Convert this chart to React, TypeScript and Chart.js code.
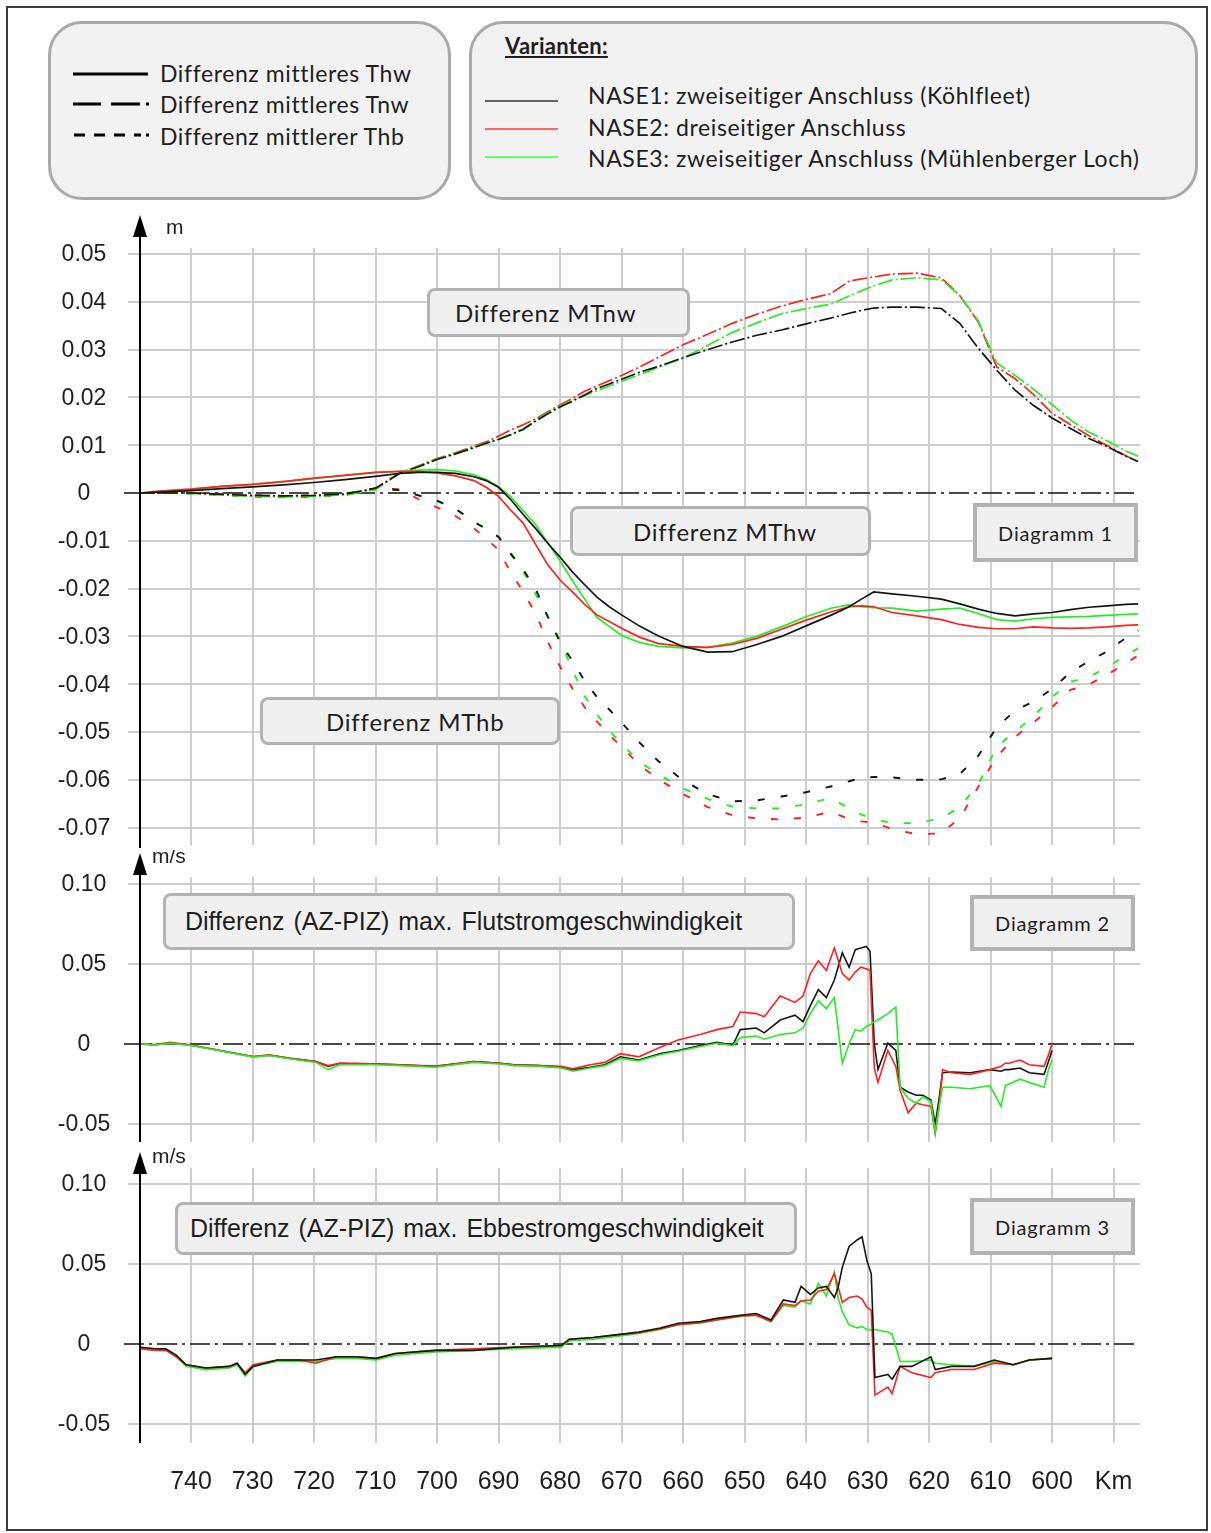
import React, { useEffect, useRef } from "react";
import { Chart, registerables } from "chart.js";

Chart.register(...registerables);

// ---------- shared x axis (Elbe-km, decreasing to the right) ----------
const X_TICKS = [740, 730, 720, 710, 700, 690, 680, 670, 660, 650, 640, 630, 620, 610, 600, 590];
const X_LABELS = ["740", "730", "720", "710", "700", "690", "680", "670", "660", "650", "640", "630", "620", "610", "600", "Km"];
const X_MAX = 748.3;
const X_MIN = 585.7;

// ---------- y ticks ----------
const Y1_TICKS = [-0.07, -0.06, -0.05, -0.04, -0.03, -0.02, -0.01, 0, 0.01, 0.02, 0.03, 0.04, 0.05];
const Y1_LABELS = ["-0.07", "-0.06", "-0.05", "-0.04", "-0.03", "-0.02", "-0.01", "0", "0.01", "0.02", "0.03", "0.04", "0.05"];
const Y23_TICKS = [-0.05, 0, 0.05, 0.1];
const Y23_LABELS = ["-0.05", "0", "0.05", "0.10"];

// ---------- Diagramm 1: water level differences (m) ----------
const KM1 = [748.3, 745, 740, 735, 730, 725, 720, 715, 710, 706, 703, 700, 697, 694, 692, 690, 688, 686, 684, 682, 680, 678, 676, 674, 672, 670, 667, 664, 660, 656, 652, 648, 644, 640, 636, 633, 631, 629, 626, 622, 618, 615, 612, 609, 606, 603, 600, 597, 594, 591, 588, 586];

const THW_NASE1 = [0, 0.0002, 0.0005, 0.0009, 0.0013, 0.0017, 0.0022, 0.0028, 0.0035, 0.0041, 0.0043, 0.0043, 0.0041, 0.0034, 0.0026, 0.0012, -0.0014, -0.0045, -0.0074, -0.0105, -0.0134, -0.0165, -0.0192, -0.0218, -0.0238, -0.0255, -0.0279, -0.0299, -0.0321, -0.0333, -0.0332, -0.0317, -0.0300, -0.0278, -0.0256, -0.0238, -0.0222, -0.0207, -0.0211, -0.0216, -0.0222, -0.0232, -0.0243, -0.0252, -0.0257, -0.0253, -0.0250, -0.0244, -0.0239, -0.0236, -0.0233, -0.0232];
const THW_NASE2 = [0, 0.0004, 0.0008, 0.0014, 0.0018, 0.0024, 0.0031, 0.0037, 0.0043, 0.0045, 0.0045, 0.0042, 0.0036, 0.0026, 0.0012, -0.0007, -0.0036, -0.0063, -0.0107, -0.015, -0.0182, -0.0207, -0.0233, -0.0255, -0.0269, -0.0283, -0.0302, -0.0315, -0.0321, -0.0323, -0.0317, -0.0304, -0.0285, -0.0266, -0.0249, -0.0238, -0.0236, -0.0238, -0.025, -0.0257, -0.0265, -0.0275, -0.0281, -0.0284, -0.0284, -0.028, -0.0282, -0.0283, -0.0282, -0.028, -0.0277, -0.0276];
const THW_NASE3 = [0, 0.0004, 0.0008, 0.0014, 0.0018, 0.0024, 0.003, 0.0037, 0.0043, 0.0046, 0.0048, 0.0049, 0.0046, 0.0038, 0.0028, 0.0013, -0.0008, -0.0037, -0.0066, -0.0104, -0.0142, -0.0183, -0.0222, -0.026, -0.0279, -0.0298, -0.0313, -0.0321, -0.0324, -0.0323, -0.0314, -0.03, -0.028, -0.0259, -0.0241, -0.0234, -0.0238, -0.024, -0.0241, -0.0247, -0.0243, -0.0241, -0.0252, -0.0265, -0.0268, -0.0263, -0.026, -0.0259, -0.0258, -0.0256, -0.0254, -0.0253];

const TNW_NASE1 = [0, 0, 0, -0.0003, -0.0005, -0.0006, -0.0005, -0.0002, 0.001, 0.0042, 0.0055, 0.007, 0.0082, 0.0095, 0.0104, 0.0112, 0.0122, 0.0133, 0.015, 0.0166, 0.018, 0.0192, 0.0205, 0.0219, 0.0228, 0.0238, 0.0253, 0.0265, 0.0283, 0.03, 0.0316, 0.033, 0.0341, 0.0354, 0.0366, 0.0376, 0.0382, 0.0387, 0.0389, 0.0389, 0.0386, 0.0355, 0.0303, 0.0257, 0.0215, 0.0183, 0.0157, 0.0135, 0.0114, 0.0097, 0.0077, 0.0066];
const TNW_NASE2 = [0, 0, 0, -0.0002, -0.0006, -0.0007, -0.0006, -0.0003, 0.0008, 0.0042, 0.0057, 0.0072, 0.0084, 0.0098, 0.0107, 0.0119, 0.0132, 0.0143, 0.0155, 0.017, 0.0184, 0.0198, 0.0213, 0.0224, 0.0235, 0.0246, 0.0264, 0.0284, 0.031, 0.0332, 0.0355, 0.0374, 0.0391, 0.0405, 0.0417, 0.0443, 0.0448, 0.0452, 0.0458, 0.046, 0.045, 0.0413, 0.0358, 0.0264, 0.0239, 0.0206, 0.0167, 0.0143, 0.012, 0.0099, 0.0078, 0.0065];
const TNW_NASE3 = [0, 0, -0.0001, -0.0004, -0.0007, -0.0008, -0.0007, -0.0004, 0.0007, 0.0042, 0.0056, 0.0071, 0.0083, 0.0096, 0.0105, 0.0113, 0.0123, 0.0134, 0.0152, 0.0168, 0.0182, 0.0194, 0.0204, 0.0214, 0.0224, 0.0234, 0.0248, 0.0263, 0.0282, 0.0309, 0.0336, 0.0356, 0.0375, 0.0386, 0.0395, 0.0412, 0.0423, 0.0433, 0.0446, 0.045, 0.0446, 0.0413, 0.036, 0.0272, 0.0246, 0.0217, 0.0185, 0.0153, 0.0127, 0.0109, 0.0088, 0.0077];

const THB_NASE1 = [0, 0, 0, -0.0003, -0.0005, -0.0006, -0.0005, -0.0002, 0.001, 0.0006, -0.0005, -0.0016, -0.0033, -0.006, -0.0075, -0.0092, -0.0128, -0.016, -0.02, -0.0258, -0.0312, -0.0351, -0.0393, -0.0427, -0.0453, -0.048, -0.0523, -0.0561, -0.0601, -0.063, -0.0645, -0.0643, -0.0635, -0.0626, -0.0614, -0.0603, -0.0596, -0.0594, -0.0595, -0.06, -0.0599, -0.0588, -0.055, -0.049, -0.0455, -0.0436, -0.041, -0.0375, -0.0352, -0.0331, -0.0303, -0.0288];
const THB_NASE2 = [0, 0, -0.0001, -0.0004, -0.0008, -0.0009, -0.0008, -0.0005, 0.001, 0.0008, -0.0013, -0.003, -0.0048, -0.0074, -0.0095, -0.0119, -0.0167, -0.0206, -0.0252, -0.0311, -0.0363, -0.0409, -0.0448, -0.0478, -0.0506, -0.0531, -0.057, -0.0599, -0.063, -0.0657, -0.0674, -0.0681, -0.0683, -0.0679, -0.0667, -0.0682, -0.0687, -0.069, -0.0703, -0.0714, -0.0712, -0.068, -0.0615, -0.0552, -0.051, -0.048, -0.0448, -0.0412, -0.04, -0.038, -0.0356, -0.034];
const THB_NASE3 = [0, 0, -0.0001, -0.0004, -0.0007, -0.0008, -0.0007, -0.0004, 0.0008, 0.0006, -0.0005, -0.0017, -0.0033, -0.0061, -0.0076, -0.0091, -0.0124, -0.0164, -0.0211, -0.026, -0.0308, -0.037, -0.0425, -0.0463, -0.0497, -0.0525, -0.0563, -0.0589, -0.0618, -0.064, -0.0656, -0.066, -0.066, -0.0651, -0.0638, -0.066, -0.0673, -0.0682, -0.0691, -0.069, -0.0681, -0.0657, -0.061, -0.0531, -0.0499, -0.0467, -0.0427, -0.0395, -0.0385, -0.0364, -0.034, -0.0325];

// ---------- Diagramm 2: max. Flutstromgeschwindigkeit (m/s) ----------
const KM2 = [748.3, 745.9, 743.4, 740.2, 735.3, 729.9, 727.3, 723.9, 719.7, 717.7, 715.8, 713.2, 709.9, 706.0, 700.3, 694.0, 689.8, 687.5, 683.3, 679.8, 677.9, 675.1, 672.7, 670.2, 667.2, 663.7, 660.8, 657.2, 654.5, 651.9, 650.7, 648.1, 646.8, 644.2, 641.8, 640.5, 639.3, 638.0, 636.7, 635.4, 634.1, 633.0, 632.0, 631.1, 630.2, 629.6, 628.9, 628.3, 626.7, 625.4, 624.7, 623.4, 622.1, 621.0, 619.7, 619.0, 618.4, 617.8, 616.4, 613.3, 610.1, 608.3, 607.6, 607.0, 605.2, 603.7, 601.3, 600.5, 600.0];
const FLUT_NASE1 = [0, -0.0005, 0.0005, -0.0006, -0.004, -0.008, -0.007, -0.009, -0.011, -0.014, -0.012, -0.0125, -0.0125, -0.013, -0.014, -0.011, -0.012, -0.013, -0.0135, -0.0145, -0.016, -0.0145, -0.013, -0.008, -0.01, -0.006, -0.004, -0.001, 0.001, -0.0006, 0.009, 0.01, 0.007, 0.015, 0.018, 0.014, 0.024, 0.034, 0.029, 0.04, 0.057, 0.048, 0.059, 0.06, 0.061, 0.058, 0.0, -0.016, 0.0006, -0.004, -0.027, -0.03, -0.032, -0.032, -0.035, -0.05, -0.035, -0.018, -0.0175, -0.018, -0.016, -0.017, -0.016, -0.016, -0.015, -0.018, -0.019, -0.01, -0.004];
const FLUT_NASE2 = [0, -0.0004, 0.001, -0.0005, -0.004, -0.0078, -0.0068, -0.009, -0.011, -0.0135, -0.012, -0.012, -0.0125, -0.013, -0.014, -0.011, -0.012, -0.013, -0.0135, -0.014, -0.0155, -0.013, -0.0115, -0.006, -0.008, -0.002, 0.0025, 0.006, 0.009, 0.011, 0.02, 0.019, 0.017, 0.03, 0.026, 0.03, 0.044, 0.052, 0.046, 0.06, 0.044, 0.04, 0.045, 0.048, 0.047, 0.046, -0.015, -0.024, -0.004, -0.014, -0.029, -0.043, -0.037, -0.038, -0.039, -0.056, -0.04, -0.016, -0.018, -0.019, -0.016, -0.014, -0.012, -0.012, -0.01, -0.013, -0.014, -0.006, 0.0];
const FLUT_NASE3 = [0, -0.0006, 0.0004, -0.0008, -0.0042, -0.0082, -0.0072, -0.0092, -0.0115, -0.016, -0.013, -0.013, -0.013, -0.0135, -0.0145, -0.0115, -0.0125, -0.0135, -0.014, -0.015, -0.017, -0.015, -0.0135, -0.009, -0.0105, -0.0065, -0.0045, -0.0015, 0.0005, -0.001, 0.004, 0.005, 0.003, 0.006, 0.007, 0.01, 0.019, 0.027, 0.022, 0.029, -0.012, 0.0, 0.009, 0.008, 0.011, 0.012, 0.014, 0.015, 0.019, 0.023, -0.027, -0.034, -0.037, -0.033, -0.036, -0.055, -0.04, -0.027, -0.027, -0.028, -0.026, -0.039, -0.026, -0.025, -0.022, -0.024, -0.027, -0.015, -0.01];

// ---------- Diagramm 3: max. Ebbestromgeschwindigkeit (m/s) ----------
const KM3 = [748.3, 745.9, 744.1, 742.4, 740.8, 737.6, 733.8, 732.5, 731.2, 729.9, 726.0, 722.3, 719.7, 716.4, 713.2, 709.9, 706.8, 700.3, 694.0, 687.5, 679.8, 678.5, 674.6, 670.2, 667.2, 663.7, 660.8, 657.2, 654.5, 650.7, 648.1, 645.7, 643.7, 641.8, 640.8, 639.3, 638.0, 636.7, 635.4, 634.8, 634.1, 633.0, 631.7, 630.9, 630.1, 629.4, 628.8, 626.7, 626.0, 624.7, 622.8, 619.7, 619.0, 616.4, 612.7, 609.4, 606.3, 603.7, 600.0];
const EBBE_NASE1 = [-0.002, -0.003, -0.003, -0.007, -0.013, -0.015, -0.014, -0.012, -0.019, -0.014, -0.01, -0.01, -0.01, -0.008, -0.008, -0.009, -0.006, -0.004, -0.004, -0.002, -0.001, 0.003, 0.004, 0.006, 0.0075, 0.01, 0.013, 0.014, 0.016, 0.018, 0.019, 0.015, 0.0275, 0.026, 0.036, 0.031, 0.035, 0.036, 0.029, 0.035, 0.048, 0.061, 0.065, 0.067, 0.052, 0.044, -0.021, -0.019, -0.022, -0.014, -0.014, -0.008, -0.016, -0.014, -0.014, -0.01, -0.013, -0.01, -0.009];
const EBBE_NASE2 = [-0.003, -0.004, -0.004, -0.008, -0.013, -0.015, -0.014, -0.012, -0.018, -0.013, -0.01, -0.01, -0.012, -0.008, -0.008, -0.009, -0.006, -0.004, -0.003, -0.002, -0.001, 0.003, 0.004, 0.006, 0.007, 0.0095, 0.012, 0.0135, 0.015, 0.0175, 0.018, 0.014, 0.025, 0.024, 0.027, 0.0275, 0.033, 0.034, 0.044, 0.036, 0.026, 0.029, 0.03, 0.028, 0.023, 0.021, -0.032, -0.027, -0.031, -0.014, -0.018, -0.021, -0.018, -0.016, -0.016, -0.012, -0.013, -0.01, -0.009];
const EBBE_NASE3 = [-0.002, -0.003, -0.0035, -0.008, -0.014, -0.016, -0.015, -0.013, -0.02, -0.014, -0.011, -0.011, -0.011, -0.009, -0.009, -0.01, -0.007, -0.005, -0.004, -0.003, -0.002, 0.002, 0.003, 0.005, 0.0065, 0.009, 0.012, 0.013, 0.015, 0.017, 0.018, 0.014, 0.024, 0.023, 0.027, 0.025, 0.038, 0.03, 0.045, 0.029, 0.02, 0.012, 0.01, 0.011, 0.009, 0.009, 0.009, 0.0075, 0.006, -0.011, -0.011, -0.01, -0.012, -0.013, -0.014, -0.011, -0.013, -0.01, -0.009];

// ---------- styling ----------
const C_BLACK = "#151515";
const C_RED = "#ff2020";
const C_GREEN = "#22ee22";
const GRID = "#cdcdcd";
const TXT = "#1e1e1e";
const DASH_TNW = [15, 3, 2, 3];
const DASH_THB = [7, 16];
const SANS = "'Liberation Sans', Arial, sans-serif";

function pts(km: number[], v: number[]) {
  return km.map((x, i) => ({ x, y: v[i] }));
}

function ds(label: string, km: number[], v: number[], color: string, dash: number[], width: number) {
  return {
    label,
    data: pts(km, v),
    borderColor: color,
    backgroundColor: color,
    borderWidth: width,
    borderDash: dash,
    pointRadius: 0,
    tension: 0,
    fill: false,
  };
}

function labelFor(ticks: number[], labels: string[], v: number) {
  const i = ticks.findIndex((t) => Math.abs(t - v) < 1e-9);
  return i >= 0 ? labels[i] : "";
}

// zero line (dash-dot), y axis with arrow, unit and y tick labels
const decoPlugin = {
  id: "deco",
  beforeDatasetsDraw(chart: any, _a: any, o: any) {
    const { ctx, chartArea } = chart;
    const y0 = chart.scales.y.getPixelForValue(0);
    ctx.save();
    ctx.strokeStyle = "#111";
    ctx.lineWidth = 1.6;
    ctx.setLineDash([20, 5, 3, 5]);
    ctx.beginPath();
    ctx.moveTo(chartArea.left - 16, y0);
    ctx.lineTo(chartArea.right - 3, y0);
    ctx.stroke();
    ctx.restore();
  },
  afterDatasetsDraw(chart: any, _a: any, o: any) {
    const { ctx, chartArea } = chart;
    const ys = chart.scales.y;
    const x = chartArea.left;
    const tip = chartArea.top - o.tipOffset;
    const base = tip + 21;
    ctx.save();
    ctx.strokeStyle = "#000";
    ctx.lineWidth = 2;
    ctx.setLineDash([]);
    ctx.beginPath();
    ctx.moveTo(x, base);
    ctx.lineTo(x, chartArea.bottom + o.extendBottom);
    ctx.stroke();
    ctx.fillStyle = "#000";
    ctx.beginPath();
    ctx.moveTo(x, tip);
    ctx.lineTo(x - 7, base + 1);
    ctx.lineTo(x + 7, base + 1);
    ctx.closePath();
    ctx.fill();
    ctx.fillStyle = TXT;
    ctx.font = `21px ${SANS}`;
    ctx.textBaseline = "middle";
    ctx.textAlign = "left";
    ctx.fillText(o.unit, x + o.unitDx, chartArea.top + o.unitDy);
    // y tick labels, centred in the label column
    ctx.font = `23px ${SANS}`;
    ctx.textAlign = "center";
    o.ticks.forEach((v: number, i: number) => {
      ctx.fillText(o.labels[i], o.labelX, ys.getPixelForValue(v) + 1);
    });
    ctx.restore();
  },
};

function makeConfig(p: any) {
  return {
    type: "line",
    data: { datasets: p.datasets },
    plugins: [decoPlugin],
    options: {
      animation: false,
      responsive: false,
      devicePixelRatio: 1,
      layout: { padding: p.padding },
      plugins: {
        legend: { display: false },
        tooltip: { enabled: false },
        deco: { ...p.deco, ticks: p.yTicks, labels: p.yLabels, labelX: 84 },
      },
      scales: {
        x: {
          type: "linear",
          reverse: true,
          min: X_MIN,
          max: X_MAX,
          afterBuildTicks: (s: any) => {
            s.ticks = X_TICKS.map((v) => ({ value: v }));
          },
          afterFit: (s: any) => {
            s.height = p.xHeight;
          },
          border: { display: false },
          grid: { color: GRID, lineWidth: 2, drawTicks: false },
          ticks: {
            display: p.showX,
            autoSkip: false,
            maxRotation: 0,
            padding: 24,
            color: TXT,
            font: { family: SANS, size: 25 },
            callback: (v: number) => labelFor(X_TICKS, X_LABELS, v),
          },
        },
        y: {
          type: "linear",
          min: p.yMin,
          max: p.yMax,
          afterBuildTicks: (s: any) => {
            s.ticks = p.yTicks.map((v: number) => ({ value: v }));
          },
          afterFit: (s: any) => {
            s.width = 140;
          },
          border: { display: false },
          grid: {
            color: (c: any) => (c.tick && Math.abs(c.tick.value) < 1e-9 ? "rgba(0,0,0,0)" : GRID),
            lineWidth: 2,
            tickLength: 12,
          },
          ticks: { display: false },
        },
      },
    },
  };
}

const lato = "Lato, 'Noto Sans', sans-serif";

function Box(props: any) {
  const { l, t, w, h, r, bw, children, style } = props;
  return (
    <div
      style={{
        position: "absolute",
        left: l,
        top: t,
        width: w,
        height: h,
        boxSizing: "border-box",
        border: `${bw || 3}px solid #b3b3b3`,
        borderRadius: r,
        background: "#f0f0f0",
        display: "flex",
        alignItems: "center",
        whiteSpace: "nowrap",
        color: TXT,
        ...style,
      }}
    >
      {children}
    </div>
  );
}

function Txt(props: any) {
  const { x, y, children, style } = props;
  return (
    <div
      style={{
        position: "absolute",
        left: x,
        top: y - 13,
        height: 26,
        lineHeight: "26px",
        whiteSpace: "nowrap",
        fontFamily: lato,
        fontSize: 23,
        letterSpacing: 0.6,
        color: TXT,
        ...style,
      }}
    >
      {children}
    </div>
  );
}

export default function App() {
  const r1 = useRef<HTMLCanvasElement>(null);
  const r2 = useRef<HTMLCanvasElement>(null);
  const r3 = useRef<HTMLCanvasElement>(null);

  useEffect(() => {
    const c1 = new Chart(
      r1.current as HTMLCanvasElement,
      makeConfig({
        datasets: [
          ds("Thw NASE1", KM1, THW_NASE1, C_BLACK, [], 1.7),
          ds("Thw NASE2", KM1, THW_NASE2, C_RED, [], 1.7),
          ds("Thw NASE3", KM1, THW_NASE3, C_GREEN, [], 1.7),
          ds("Tnw NASE1", KM1, TNW_NASE1, C_BLACK, DASH_TNW, 1.7),
          ds("Tnw NASE3", KM1, TNW_NASE3, C_GREEN, DASH_TNW, 1.7),
          ds("Tnw NASE2", KM1, TNW_NASE2, C_RED, DASH_TNW, 1.7),
          ds("Thb NASE1", KM1, THB_NASE1, C_BLACK, DASH_THB, 1.9),
          ds("Thb NASE3", KM1, THB_NASE3, C_GREEN, DASH_THB, 1.9),
          ds("Thb NASE2", KM1, THB_NASE2, C_RED, DASH_THB, 1.9),
        ],
        padding: { top: 48, bottom: 5, left: 0, right: 71 },
        xHeight: 0,
        showX: false,
        yMin: -0.07364,
        yMax: 0.05126,
        yTicks: Y1_TICKS,
        yLabels: Y1_LABELS,
        deco: { unit: "m", tipOffset: 33, extendBottom: 3, unitDx: 26, unitDy: -20 },
      }) as any
    );
    const c2 = new Chart(
      r2.current as HTMLCanvasElement,
      makeConfig({
        datasets: [
          ds("Flut NASE3", KM2, FLUT_NASE3, C_GREEN, [], 1.6),
          ds("Flut NASE2", KM2, FLUT_NASE2, C_RED, [], 1.6),
          ds("Flut NASE1", KM2, FLUT_NASE1, C_BLACK, [], 1.6),
        ],
        padding: { top: 27, bottom: 3, left: 0, right: 71 },
        xHeight: 0,
        showX: false,
        yMin: -0.06125,
        yMax: 0.1044,
        yTicks: Y23_TICKS,
        yLabels: Y23_LABELS,
        deco: { unit: "m/s", tipOffset: 24, extendBottom: 0, unitDx: 12, unitDy: -20 },
      }) as any
    );
    const c3 = new Chart(
      r3.current as HTMLCanvasElement,
      makeConfig({
        datasets: [
          ds("Ebbe NASE1", KM3, EBBE_NASE1, C_BLACK, [], 1.6),
          ds("Ebbe NASE2", KM3, EBBE_NASE2, C_RED, [], 1.6),
          ds("Ebbe NASE3", KM3, EBBE_NASE3, C_GREEN, [], 1.6),
        ],
        padding: { top: 23, bottom: 0, left: 0, right: 71 },
        xHeight: 90,
        showX: true,
        yMin: -0.0619,
        yMax: 0.11,
        yTicks: Y23_TICKS,
        yLabels: Y23_LABELS,
        deco: { unit: "m/s", tipOffset: 16, extendBottom: 0, unitDx: 12, unitDy: -11 },
      }) as any
    );
    return () => {
      c1.destroy();
      c2.destroy();
      c3.destroy();
    };
  }, []);

  return (
    <div
      style={{
        position: "absolute",
        left: 0,
        top: 0,
        width: 1211,
        height: 1533,
        background: "#ffffff",
        overflow: "hidden",
        fontFamily: lato,
      }}
    >
      {/* outer frame */}
      <div
        style={{
          position: "absolute",
          left: 6,
          top: 6,
          width: 1202,
          height: 1525,
          boxSizing: "border-box",
          border: "2px solid #3c3c3c",
        }}
      />

      {/* legend box 1: line styles */}
      <Box l={48} t={21} w={403} h={179} r={34} style={{ background: "#f2f2f2", borderColor: "#a9a9a9" }} />
      {/* legend box 2: variants */}
      <Box l={469} t={21} w={729} h={179} r={34} style={{ background: "#f2f2f2", borderColor: "#a9a9a9" }} />

      <svg width={1211} height={210} style={{ position: "absolute", left: 0, top: 0 }}>
        <line x1={73} y1={74} x2={148} y2={74} stroke="#000" strokeWidth={3} />
        <line x1={73} y1={104} x2={101} y2={104} stroke="#000" strokeWidth={3} />
        <line x1={111} y1={104} x2={140} y2={104} stroke="#000" strokeWidth={3} />
        <line x1={146} y1={104} x2={149} y2={104} stroke="#000" strokeWidth={3} />
        <line x1={74} y1={135} x2={85} y2={135} stroke="#000" strokeWidth={3} />
        <line x1={94} y1={135} x2={105} y2={135} stroke="#000" strokeWidth={3} />
        <line x1={114} y1={135} x2={125} y2={135} stroke="#000" strokeWidth={3} />
        <line x1={134} y1={135} x2={141} y2={135} stroke="#000" strokeWidth={3} />
        <line x1={146} y1={135} x2={149} y2={135} stroke="#000" strokeWidth={3} />
        <line x1={485} y1={101} x2={558} y2={101} stroke="#333" strokeWidth={1.5} />
        <line x1={485} y1={129} x2={558} y2={129} stroke="#ff3838" strokeWidth={1.5} />
        <line x1={485} y1={157} x2={558} y2={157} stroke="#3cff3c" strokeWidth={1.5} />
      </svg>

      <Txt x={160} y={73}>Differenz mittleres Thw</Txt>
      <Txt x={160} y={104}>Differenz mittleres Tnw</Txt>
      <Txt x={160} y={136}>Differenz mittlerer Thb</Txt>

      <Txt x={505} y={46} style={{ fontWeight: 700, textDecoration: "underline", letterSpacing: 0.3, fontSize: 22 }}>
        Varianten:
      </Txt>
      <Txt x={588} y={95}>NASE1: zweiseitiger Anschluss (Köhlfleet)</Txt>
      <Txt x={588} y={127}>NASE2: dreiseitiger Anschluss</Txt>
      <Txt x={588} y={158}>NASE3: zweiseitiger Anschluss (Mühlenberger Loch)</Txt>

      {/* charts */}
      <canvas ref={r1} width={1211} height={650} style={{ position: "absolute", left: 0, top: 200 }} />
      <canvas ref={r2} width={1211} height={295} style={{ position: "absolute", left: 0, top: 850 }} />
      <canvas ref={r3} width={1211} height={388} style={{ position: "absolute", left: 0, top: 1145 }} />

      {/* annotation boxes */}
      <Box l={427} t={288} w={263} h={49} r={8} style={{ paddingLeft: 25, fontSize: 24, letterSpacing: 0.8, fontFamily: lato }}>
        Differenz MTnw
      </Box>
      <Box l={570} t={506} w={301} h={50} r={8} style={{ paddingLeft: 60, fontSize: 24, letterSpacing: 0.8, fontFamily: lato }}>
        Differenz MThw
      </Box>
      <Box l={260} t={697} w={300} h={48} r={8} style={{ paddingLeft: 63, fontSize: 24, letterSpacing: 0.8, fontFamily: lato }}>
        Differenz MThb
      </Box>
      <Box l={973} t={503} w={165} h={59} r={0} bw={4} style={{ justifyContent: "center", fontSize: 20, letterSpacing: 0.8, fontFamily: lato }}>
        Diagramm 1
      </Box>

      <Box l={163} t={893} w={632} h={57} r={8} style={{ paddingLeft: 19, fontSize: 25, wordSpacing: 2, fontFamily: SANS }}>
        Differenz (AZ-PIZ) max. Flutstromgeschwindigkeit
      </Box>
      <Box l={970} t={895} w={165} h={56} r={0} bw={4} style={{ justifyContent: "center", fontSize: 20, letterSpacing: 0.8, fontFamily: lato }}>
        Diagramm 2
      </Box>

      <Box l={175} t={1202} w={622} h={53} r={8} style={{ paddingLeft: 12, fontSize: 25, wordSpacing: 2, fontFamily: SANS }}>
        Differenz (AZ-PIZ) max. Ebbestromgeschwindigkeit
      </Box>
      <Box l={970} t={1198} w={165} h={57} r={0} bw={4} style={{ justifyContent: "center", fontSize: 20, letterSpacing: 0.8, fontFamily: lato }}>
        Diagramm 3
      </Box>
    </div>
  );
}
